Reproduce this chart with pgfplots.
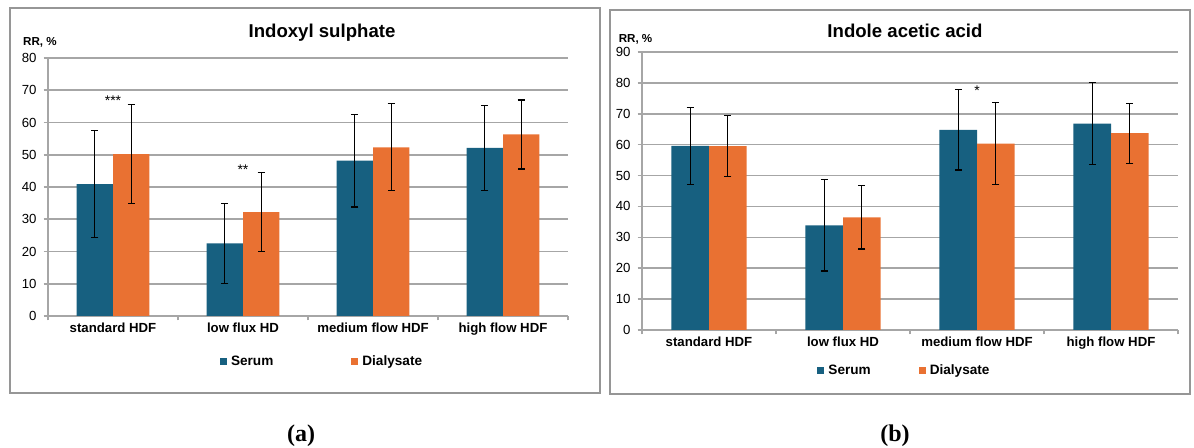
\documentclass[border=0pt]{standalone}
\usepackage{fontspec}
\setmainfont{Liberation Sans}
\newfontfamily\serifbf{Liberation Serif}
\usepackage{pgfplots}
\pgfplotsset{compat=1.18}
\usepackage{pgfplotstable}
\definecolor{serum}{RGB}{23,96,128}
\definecolor{dial}{RGB}{233,113,50}
\definecolor{gridc}{RGB}{166,166,166}
\definecolor{framec}{RGB}{150,150,150}

\pgfplotstableread{
x s se d de
0 40.9 16.6 50.2 15.3
1 22.5 12.5 32.2 12.2
2 48.2 14.4 52.3 13.5
3 52.1 13.2 56.3 10.7
}\indoxyl

\pgfplotstableread{
x s se d de
0 59.6 12.5 59.5 9.9
1 33.9 14.8 36.5 10.3
2 64.8 13.0 60.3 13.3
3 66.8 13.3 63.7 9.7
}\indole

\pgfplotsset{
  myleg/.style={legend image code/.code={\fill[##1] (0pt,-1.75pt) rectangle (3.5pt,1.75pt);}},
  mystyle/.style={
    scale only axis, anchor=south west,
    xmin=-0.5, xmax=3.5, ymin=0,
    axis x line*=bottom, axis y line*=left,
    axis line style={gridc, line width=0.8pt},
    ymajorgrids, grid style={gridc, line width=0.8pt},
    xtick={-0.5,0.5,1.5,2.5,3.5}, xticklabels={},
    extra x ticks={0,1,2,3},
    extra x tick labels={standard HDF, low flux HD, medium flow HDF, high flow HDF},
    extra x tick style={major tick length=0pt, grid=none},
    major tick length=2.25pt,
    tick align=outside,
    tick style={gridc, line width=0.8pt},
    xticklabel style={font=\fontsize{6.6}{7}\selectfont\bfseries},
    yticklabel style={font=\fontsize{6.6}{7}\selectfont},
    /pgf/number format/assume math mode=true,
    legend columns=2,
    legend style={draw=none, fill=none, inner sep=0pt, font=\fontsize{6.8}{7}\selectfont\bfseries},
    ybar, bar width=0.28,
    error bars/error bar style={draw=black, line width=0.6pt},
    error bars/error mark options={rotate=90, draw=black, line width=0.6pt, mark size=1.75pt},
  }
}

\begin{document}
\begin{tikzpicture}
\useasboundingbox (0,0) rectangle (597pt,224pt);
\draw[framec, line width=0.7pt] (5pt,27.5pt) rectangle (300pt,220pt);
\draw[framec, line width=0.7pt] (305pt,27pt) rectangle (595pt,219pt);

\begin{axis}[mystyle, at={(24pt,66pt)}, width=260pt, height=129pt,
  ymax=80, ytick={0,10,...,80},
  legend style={at={(0.529,-0.178)}, anchor=center, /tikz/every even column/.append style={column sep=37pt}}]
\addplot[fill=serum, draw=none, bar shift=0pt, myleg,
  error bars/.cd, y dir=both, y explicit]
  table[x expr=\thisrow{x}-0.14, y=s, y error=se] {\indoxyl};
\addplot[fill=dial, draw=none, bar shift=0pt, myleg,
  error bars/.cd, y dir=both, y explicit]
  table[x expr=\thisrow{x}+0.14, y=d, y error=de] {\indoxyl};
\legend{Serum, Dialysate}
\node[font=\fontsize{7}{7}\selectfont, anchor=base] at (axis cs:0,65.3) {***};
\node[font=\fontsize{7}{7}\selectfont, anchor=base] at (axis cs:1,44.0) {**};
\end{axis}

\begin{axis}[mystyle, at={(321pt,59pt)}, width=268pt, height=139pt,
  ymax=90, ytick={0,10,...,90},
  legend style={at={(0.4916,-0.147)}, anchor=center, /tikz/every even column/.append style={column sep=22pt}}]
\addplot[fill=serum, draw=none, bar shift=0pt, myleg,
  error bars/.cd, y dir=both, y explicit]
  table[x expr=\thisrow{x}-0.14, y=s, y error=se] {\indole};
\addplot[fill=dial, draw=none, bar shift=0pt, myleg,
  error bars/.cd, y dir=both, y explicit]
  table[x expr=\thisrow{x}+0.14, y=d, y error=de] {\indole};
\legend{Serum, Dialysate}
\node[font=\fontsize{7}{7}\selectfont, anchor=base] at (axis cs:2,75.8) {*};
\end{axis}

\node[font=\fontsize{9.3}{10}\selectfont\bfseries] at (161pt,207.5pt) {Indoxyl sulphate};
\node[font=\fontsize{9.3}{10}\selectfont\bfseries] at (452.5pt,208.5pt) {Indole acetic acid};
\node[font=\fontsize{5.8}{7}\selectfont\bfseries] at (20pt,203pt) {RR, \%};
\node[font=\fontsize{5.8}{7}\selectfont\bfseries] at (317.75pt,204.5pt) {RR, \%};
\node[font=\serifbf\fontsize{12}{13}\selectfont\bfseries] at (150.5pt,6pt) {(a)};
\node[font=\serifbf\fontsize{12}{13}\selectfont\bfseries] at (447.5pt,6pt) {(b)};
\end{tikzpicture}
\end{document}
